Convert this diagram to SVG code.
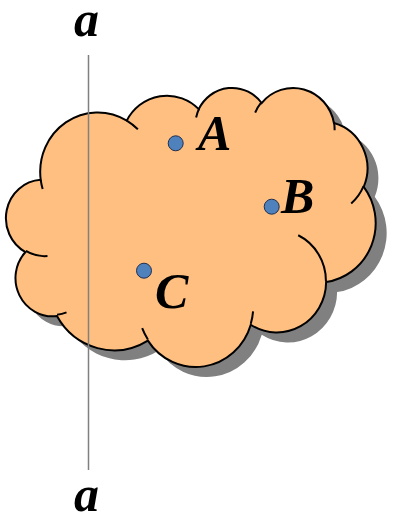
<svg xmlns="http://www.w3.org/2000/svg" width="393" height="520" viewBox="0 0 393 520">
  <style>
    .lbl { font-family: "Liberation Serif", "Times New Roman", serif; font-weight: bold; font-style: italic; font-size: 50px; fill: #000; }
    .dot { fill: #4F81BD; stroke: #1F2F4F; stroke-width: 1; }
    .edge { stroke: #000; stroke-width: 2; vector-effect: non-scaling-stroke; }
  </style>
  <defs>
    <path id="cloudPath" d="M 3900,14370 A 6753 9190 0 0 1 14004,5201 A 5333 7267 0 0 1 22455,3431 A 4365 5945 0 0 1 29833,2481 A 4857 6595 0 0 1 38318,5576 A 5333 7273 0 0 1 41819,15460 A 6775 9220 0 0 1 37404,30202 A 5785 7867 0 0 1 28556,36812 A 6752 9215 0 0 1 16481,39265 A 7720 10543 0 0 1 5805,35470 A 4360 5918 0 0 1 2113,25550 A 4345 5945 0 0 1 3900,14370 Z"/>
    <filter id="blur" x="-10%" y="-10%" width="120%" height="120%">
      <feGaussianBlur stdDeviation="1.5"/>
    </filter>
  </defs>

  <g id="cloud">
    <g transform="translate(18.5,97) scale(0.0085185,0.0064583)" filter="url(#blur)">
      <use href="#cloudPath" fill="#808080"/>
    </g>
    <g transform="translate(7.5,87) scale(0.0085185,0.0064583)">
      <path class="edge" fill="#FFBF80" d="M 3900,14370 A 6753 9190 0 0 1 14004,5201 A 5333 7267 0 0 1 22455,3431 A 4365 5945 0 0 1 29833,2481 A 4857 6595 0 0 1 38318,5576 A 5333 7273 0 0 1 41819,15460 A 6775 9220 0 0 1 37404,30202 A 5785 7867 0 0 1 28556,36812 A 6752 9215 0 0 1 16481,39265 A 7720 10543 0 0 1 5805,35470 A 4360 5918 0 0 1 2113,25550 A 4345 5945 0 0 1 3900,14370 Z"/>
      <path class="edge" fill="none" d="M 4693,26177 A 4345 5945 0 0 1 2160,25380
        M 6928,34899 A 4360 5918 0 0 1 5819,35281
        M 16478,39090 A 6752 9215 0 0 1 15809,37349
        M 28827,34751 A 6752 9215 0 0 1 28560,36660
        M 34129,22954 A 5785 7867 0 0 1 37381,30090
        M 41798,15354 A 5333 7273 0 0 1 40350,18030
        M 38324,5426 A 4857 6595 0 0 1 38400,6690
        M 29078,3952 A 4857 6595 0 0 1 29820,2339
        M 22141,4720 A 4365 5945 0 0 1 22500,3331
        M 14000,5192 A 6753 9190 0 0 1 15301,6542
        M 4127,15789 A 6753 9190 0 0 1 3900,14371"/>
    </g>
  </g>

  <g id="line-a">
    <line x1="88.5" y1="55" x2="88.5" y2="470" stroke="#808080" stroke-width="1.5"/>
    <text class="lbl" x="74" y="36">a</text>
    <text class="lbl" x="74" y="511">a</text>
  </g>

  <g id="point-A">
    <circle class="dot" cx="175.7" cy="143.3" r="7.5"/>
    <text class="lbl" x="198" y="150">A</text>
  </g>
  <g id="point-B">
    <circle class="dot" cx="271.7" cy="206.7" r="7.5"/>
    <text class="lbl" x="281" y="213">B</text>
  </g>
  <g id="point-C">
    <circle class="dot" cx="144" cy="270.7" r="7.5"/>
    <text class="lbl" x="155" y="308">C</text>
  </g>
</svg>
